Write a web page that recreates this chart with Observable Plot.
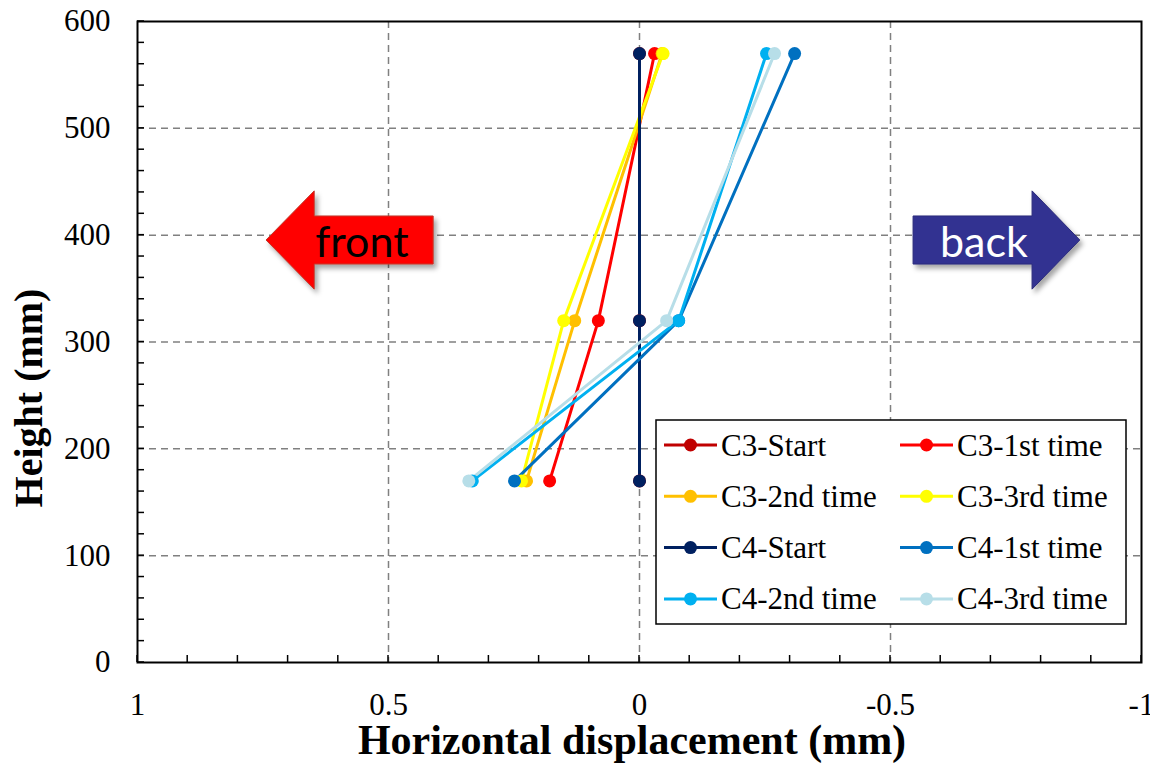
<!DOCTYPE html>
<html>
<head>
<meta charset="utf-8">
<script src="https://cdn.jsdelivr.net/npm/d3@7"></script>
<script src="https://cdn.jsdelivr.net/npm/@observablehq/plot@0.6"></script>
<style>
  html, body { margin: 0; padding: 0; background: white; }
</style>
</head>
<body>
<div id="chart"></div>
<script>
// ---- data ----
const seriesNames = ["C3-Start", "C3-1st time", "C3-2nd time", "C3-3rd time",
                     "C4-Start", "C4-1st time", "C4-2nd time", "C4-3rd time"];
const seriesColors = ["#C00000", "#FF0000", "#FFC000", "#FFFF00",
                      "#002060", "#0070C0", "#00B0F0", "#B7DEE8"];
const heights = [170, 320, 570];
const c3Start = [0, 0, 0];
const c3First = [0.179, 0.082, -0.030];
const c3Second = [0.225, 0.129, -0.045];
const c3Third = [0.235, 0.151, -0.047];
const c4Start = [0, 0, 0];
const c4First = [0.249, -0.078, -0.309];
const c4Second = [0.333, -0.078, -0.253];
const c4Third = [0.340, -0.054, -0.269];
const seriesValues = [c3Start, c3First, c3Second, c3Third, c4Start, c4First, c4Second, c4Third];

const xTicks = [1, 0.5, 0, -0.5, -1];
const xTickLabels = ["1", "0.5", "0", "-0.5", "-1"];
const yTicks = [0, 100, 200, 300, 400, 500, 600];
const xGrid = [0.5, 0, -0.5];
const yGrid = [100, 200, 300, 400, 500];
const xMinor = d3.range(-10, 11).map(d => d / 10);
const yMinor = d3.range(0, 601, 20);

// direction annotations (data units)
const arrowLabels = ["front", "back"];
const arrowTail = [0.410, -0.546];
const arrowHeadBase = [0.647, -0.783];
const arrowTip = [0.743, -0.878];
const arrowTextX = [0.552, -0.687];
const arrowY = 395;
const arrowBodyHalf = 22.5;
const arrowHeadHalf = 46;

const data = seriesNames.flatMap((s, i) =>
  heights.map((h, j) => ({series: s, height: h, disp: seriesValues[i][j]})));

const serif = "'Liberation Serif', 'Times New Roman', serif";
const fontSize = 31;

function arrowsMark(index, scales) {
  const {x, y} = scales;
  const g = d3.create("svg:g");
  const defs = g.append("defs");
  defs.append("filter").attr("id", "arrowShadow")
    .attr("x", "-20%").attr("y", "-20%").attr("width", "150%").attr("height", "150%")
    .append("feDropShadow")
    .attr("dx", 3).attr("dy", 4).attr("stdDeviation", 2.5)
    .attr("flood-color", "#000").attr("flood-opacity", 0.35);
  const fills = ["#FF0000", "#333391"];
  const strokes = ["#C0392B", "#2A2A7A"];
  const textColors = ["#000000", "#FFFFFF"];
  arrowLabels.forEach((label, i) => {
    const pts = [
      [arrowTail[i], arrowY + arrowBodyHalf],
      [arrowHeadBase[i], arrowY + arrowBodyHalf],
      [arrowHeadBase[i], arrowY + arrowHeadHalf],
      [arrowTip[i], arrowY],
      [arrowHeadBase[i], arrowY - arrowHeadHalf],
      [arrowHeadBase[i], arrowY - arrowBodyHalf],
      [arrowTail[i], arrowY - arrowBodyHalf]
    ].map(([a, b]) => [x(a), y(b)]);
    g.append("path")
      .attr("d", "M" + pts.map(p => p.join(",")).join("L") + "Z")
      .attr("fill", fills[i])
      .attr("stroke", strokes[i])
      .attr("stroke-width", 1)
      .attr("filter", "url(#arrowShadow)");
    g.append("text")
      .attr("x", x(arrowTextX[i]))
      .attr("y", y(arrowY) + 17)
      .attr("text-anchor", "middle")
      .attr("font-family", "Lato, 'Open Sans', sans-serif")
      .attr("font-size", 43)
      .attr("fill", textColors[i])
      .text(label);
  });
  return g.node();
}

function minorTicksMark(index, scales, values, dims) {
  const {x, y} = scales;
  const {marginLeft, marginBottom, height} = dims;
  const g = d3.create("svg:g").attr("stroke", "black").attr("stroke-width", 1.5);
  const yb = height - marginBottom;
  xMinor.forEach(v => {
    g.append("line").attr("x1", x(v)).attr("x2", x(v)).attr("y1", yb).attr("y2", yb - 7);
  });
  yMinor.forEach(v => {
    g.append("line").attr("x1", marginLeft).attr("x2", marginLeft + 7).attr("y1", y(v)).attr("y2", y(v));
  });
  return g.node();
}

function legendMark() {
  const g = d3.create("svg:g").attr("text-anchor", "start");
  const bx = 656, by = 420, bw = 470, bh = 204;
  g.append("rect").attr("x", bx).attr("y", by).attr("width", bw).attr("height", bh)
    .attr("fill", "white").attr("stroke", "black").attr("stroke-width", 1.5);
  seriesNames.forEach((s, i) => {
    const col = i % 2, row = Math.floor(i / 2);
    const x0 = col ? 900 : 664;
    const cy = 445 + row * 51.3;
    g.append("line").attr("x1", x0).attr("x2", x0 + 53).attr("y1", cy).attr("y2", cy)
      .attr("stroke", seriesColors[i]).attr("stroke-width", 3);
    g.append("circle").attr("cx", x0 + 26.5).attr("cy", cy).attr("r", 6.5)
      .attr("fill", seriesColors[i]);
    g.append("text").attr("x", x0 + 57).attr("y", cy + 10.5)
      .attr("text-anchor", "start")
      .attr("font-family", serif).attr("font-size", fontSize).attr("fill", "black")
      .text(s);
  });
  return g.node();
}

function titlesMark() {
  const g = d3.create("svg:g")
    .attr("font-family", serif).attr("font-weight", "bold").attr("fill", "black");
  g.append("text").attr("x", 632).attr("y", 754).attr("text-anchor", "middle")
    .attr("font-size", 42).text("Horizontal displacement (mm)");
  g.append("text").attr("transform", "translate(42,398) rotate(-90)")
    .attr("text-anchor", "middle").attr("font-size", 40).text("Height (mm)");
  return g.node();
}

const chart = Plot.plot({
  width: 1150,
  height: 763,
  marginLeft: 137,
  marginRight: 9,
  marginTop: 21,
  marginBottom: 101,
  x: {domain: [1, -1]},
  y: {domain: [0, 600]},
  color: {domain: seriesNames, range: seriesColors},
  style: {fontFamily: serif, fontSize: fontSize + "px", color: "black", background: "white"},
  marks: [
    Plot.gridX(xGrid, {stroke: "#808080", strokeOpacity: 1, strokeWidth: 1.5, strokeDasharray: "7,5"}),
    Plot.gridY(yGrid, {stroke: "#808080", strokeOpacity: 1, strokeWidth: 1.5, strokeDasharray: "7,5"}),
    arrowsMark,
    minorTicksMark,
    Plot.axisX(xTicks, {tickSize: 0, tickPadding: 30, fontSize: fontSize, label: null,
      tickFormat: d => xTickLabels[xTicks.indexOf(d)]}),
    Plot.axisY(yTicks, {tickSize: 0, tickPadding: 27, fontSize: fontSize, label: null,
      tickFormat: d => String(d)}),
    Plot.line(data, {x: "disp", y: "height", z: "series", stroke: "series", strokeWidth: 3}),
    Plot.dot(data, {x: "disp", y: "height", fill: "series", r: 6.5}),
    Plot.frame({stroke: "black", strokeWidth: 2}),
    legendMark,
    titlesMark
  ]
});
document.getElementById("chart").appendChild(chart);
</script>
</body>
</html>
